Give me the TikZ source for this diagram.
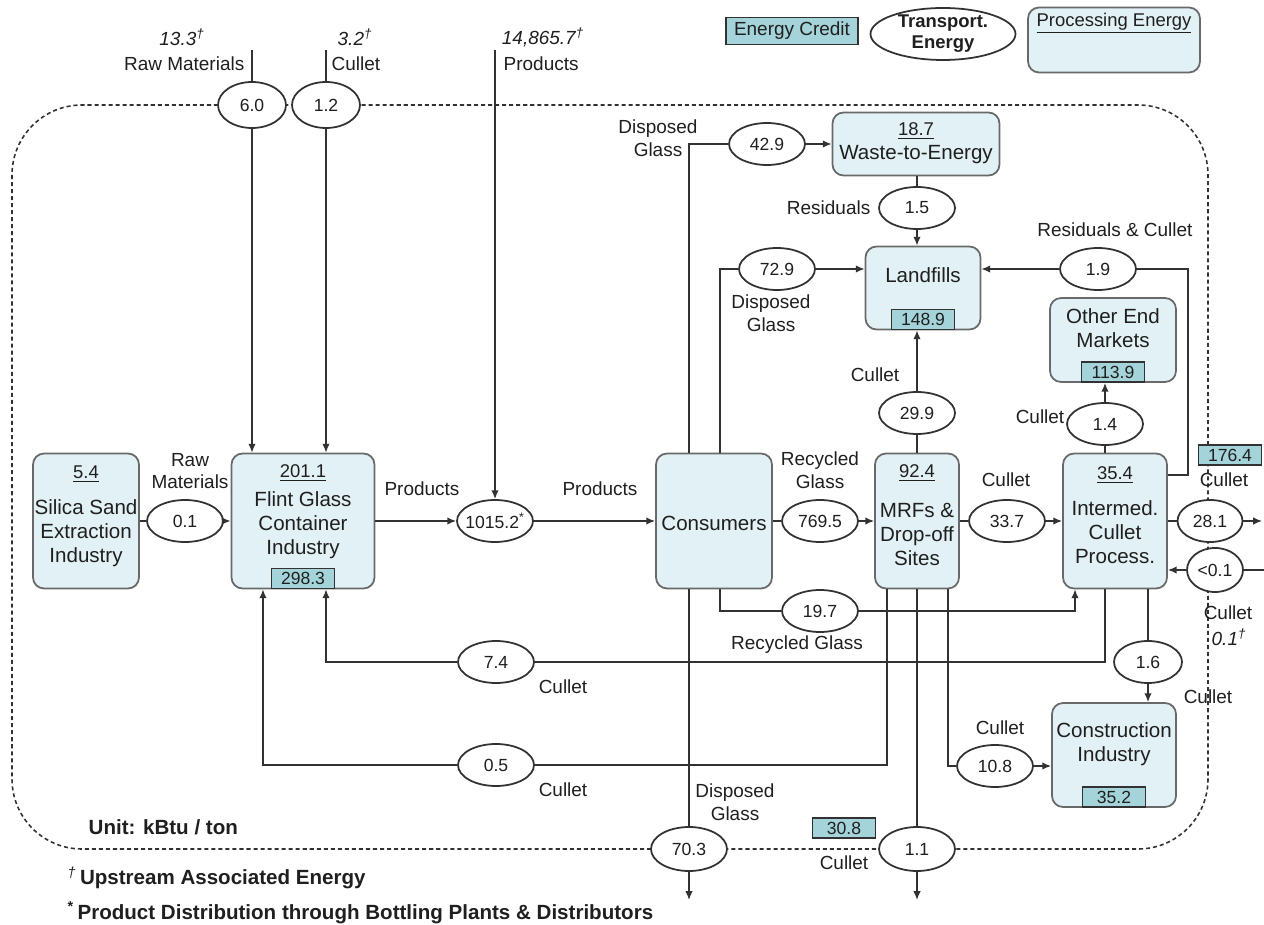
\documentclass[tikz,border=0pt]{standalone}
\usepackage{fontspec}
\setmainfont{Liberation Sans}
\usetikzlibrary{shapes.geometric, arrows.meta}
\definecolor{boxblue}{RGB}{226,241,245}
\definecolor{creditteal}{RGB}{164,211,217}
\definecolor{linegray}{RGB}{50,50,50}
\definecolor{edgegray}{RGB}{105,105,105}
\newcommand{\bnum}[1]{{\fontsize{10.5}{12}\selectfont\underline{#1}}}
\newcommand{\up}{\textsuperscript{\textdagger}}

\begin{document}
\begin{tikzpicture}[x=0.02cm, y=-0.02cm, >={Latex[length=5pt,width=4.2pt]}, line width=0.8pt, color=linegray,
    every node/.append style={text=black!88},
    proc/.style={draw=edgegray, line width=1pt, fill=boxblue, rounded corners=0.22cm, minimum height=2.7cm, inner sep=0pt},
    flow/.style={ellipse, draw=linegray, line width=1pt, fill=white, minimum width=1.52cm, minimum height=0.84cm, inner sep=0pt, font=\fontsize{10}{12}\selectfont},
    credit/.style={draw=linegray, fill=creditteal, minimum width=1.26cm, minimum height=0.4cm, inner sep=0pt, font=\fontsize{10}{12}\selectfont},
    lbl/.style={align=center, inner sep=0pt, font=\fontsize{10.8}{13}\selectfont},
    boxtxt/.style={align=center, inner sep=0pt, font=\fontsize{11.7}{13.6}\selectfont},
    note/.style={anchor=west, inner sep=0pt, font=\fontsize{11.7}{14}\selectfont\bfseries},
    boundary/.style={dash pattern=on 2.3pt off 1.7pt, line width=0.9pt, rounded corners=1.4cm}]
    \useasboundingbox (0,0) rectangle (1264,925);

    \draw[boundary] (12,105) rectangle (1208,849);

    \coordinate (rawTop) at (252,50);
    \coordinate (culTop) at (326,50);
    \coordinate (prodTop) at (495,50);
    \coordinate (outEnd) at (1262,521);
    \coordinate (inStart) at (1264,570);
    \coordinate (consEnd) at (689,900);
    \coordinate (mrfEnd) at (917,900);
    \coordinate (rcTurn) at (1188,475);
    \coordinate (consL) at (689,0);
    \coordinate (consR) at (720,0);
    \coordinate (flintL) at (263,0);
    \coordinate (flintR) at (326,0);
    \coordinate (mrfL) at (887,0);
    \coordinate (mrfR) at (948,0);
    \coordinate (icpL) at (1075,0);
    \coordinate (icpM) at (1105,0);

    % legend
    \node[credit, minimum width=2.64cm, minimum height=0.54cm, font=\fontsize{10.8}{12}\selectfont] (keyCredit) at (792,31) {Energy Credit};
    \node[flow, minimum width=2.9cm, minimum height=1.04cm, inner ysep=-3pt, align=center, font=\fontsize{10.5}{12}\selectfont\bfseries] (keyTrans) at (943,34) {Transport.\\Energy};
    \node[proc, minimum width=3.44cm, minimum height=1.3cm] (keyProc) at (1114,40) {};
    \node[boxtxt, anchor=north, font=\fontsize{10.5}{12}\selectfont] (keyProcTxt) at (1114,12) {\underline{Processing Energy}};

    % process boxes
    \node[proc, minimum width=2.12cm] (silica) at (86,521) {};
    \node[boxtxt] (silicaTxt) at (86,516) {\bnum{5.4}\\[7pt]Silica Sand\\Extraction\\Industry};
    \node[proc, minimum width=2.86cm] (flint) at (303,521) {};
    \node[boxtxt] (flintTxt) at (303,512) {\bnum{201.1}\\[3pt]Flint Glass\\Container\\Industry};
    \node[credit, anchor=south] (flintCr) at (flint.south) {298.3};
    \node[proc, minimum width=2.32cm] (consumers) at (714,521) {};
    \node[boxtxt] (consTxt) at (714,523) {Consumers};
    \node[proc, minimum width=1.68cm] (mrf) at (917,521) {};
    \node[boxtxt] (mrfTxt) at (917,515) {\bnum{92.4}\\[9pt]MRFs \&\\Drop-off\\Sites};
    \node[proc, minimum width=2.08cm] (icp) at (1115,521) {};
    \node[boxtxt] (icpTxt) at (1115,515) {\bnum{35.4}\\[7pt]Intermed.\\Cullet\\Process.};
    \node[proc, minimum width=3.34cm, minimum height=1.26cm] (wte) at (916,144) {};
    \node[boxtxt] (wteTxt) at (916,143) {\bnum{18.7}\\Waste-to-Energy};
    \node[proc, minimum width=2.3cm, minimum height=1.66cm] (landfill) at (923,288) {};
    \node[boxtxt] (landfillTxt) at (923,275) {Landfills};
    \node[credit, anchor=south] (landfillCr) at (landfill.south) {148.9};
    \node[proc, minimum width=2.52cm, minimum height=1.68cm] (oem) at (1113,340) {};
    \node[boxtxt] (oemTxt) at (1113,328) {Other End\\Markets};
    \node[credit, anchor=south] (oemCr) at (oem.south) {113.9};
    \node[proc, minimum width=2.48cm, minimum height=2.08cm] (constr) at (1114,755) {};
    \node[boxtxt] (constrTxt) at (1114,744) {Construction\\Industry};
    \node[credit, anchor=south] (constrCr) at (constr.south) {35.2};

    % flows
    \node[flow, minimum width=1.36cm, minimum height=0.92cm] (rawIn) at (252,105) {6.0};
    \node[flow, minimum width=1.36cm, minimum height=0.92cm] (culIn) at (326,105) {1.2};
    \node[flow] (sandFl) at (185,521) {0.1};
    \node[flow, inner xsep=-5pt] (distr) at (495,521) {1015.2\textsuperscript{*}};
    \node[flow] (consMrf) at (820,521) {769.5};
    \node[flow] (mrfIcp) at (1007,521) {33.7};
    \node[flow, minimum width=1.3cm] (icpOut) at (1210,521) {28.1};
    \node[flow, minimum width=1.12cm, minimum height=0.88cm] (icpIn) at (1215,570) {<0.1};
    \node[flow] (dispWte) at (767,144) {42.9};
    \node[flow] (wteLf) at (917,208) {1.5};
    \node[flow] (dispLf) at (777,269) {72.9};
    \node[flow] (rcLf) at (1098,269) {1.9};
    \node[flow] (mrfLf) at (917,413) {29.9};
    \node[flow] (icpOem) at (1105,424) {1.4};
    \node[flow] (consIcp) at (820,611) {19.7};
    \node[flow] (icpFlint) at (496,662) {7.4};
    \node[flow, minimum width=1.36cm] (icpCon) at (1148,662) {1.6};
    \node[flow] (mrfFlint) at (496,765) {0.5};
    \node[flow] (mrfCon) at (995,766) {10.8};
    \node[flow, minimum height=0.88cm] (consOut) at (689,849) {70.3};
    \node[flow, minimum height=0.88cm] (mrfOut) at (917,849) {1.1};
    \node[credit] (outCr) at (1230,455) {176.4};
    \node[credit] (mrfOutCr) at (844,828) {30.8};

    \draw (rawTop) -- (rawIn);
    \draw[->] (rawIn) -- (rawIn |- flint.north);
    \draw (culTop) -- (culIn);
    \draw[->] (culIn) -- (culIn |- flint.north);
    \draw[->] (prodTop) -- (distr);
    \draw (silica) -- (sandFl);
    \draw[->] (sandFl) -- (flint);
    \draw[->] (flint) -- (distr);
    \draw[->] (distr) -- (consumers);
    \draw (consumers) -- (consMrf);
    \draw[->] (consMrf) -- (mrf);
    \draw (mrf) -- (mrfIcp);
    \draw[->] (mrfIcp) -- (icp);
    \draw (icp) -- (icpOut);
    \draw[->] (icpOut) -- (outEnd);
    \draw (inStart) -- (icpIn);
    \draw[->] (icpIn) -- (icpIn -| icp.east);
    \draw (consL |- consumers.north) |- (dispWte);
    \draw[->] (dispWte) -- (dispWte -| wte.west);
    \draw (wteLf |- wte.south) -- (wteLf);
    \draw[->] (wteLf) -- (wteLf |- landfill.north);
    \draw (consR |- consumers.north) |- (dispLf);
    \draw[->] (dispLf) -- (dispLf -| landfill.west);
    \draw (icp.east |- rcTurn) -- (rcTurn) |- (rcLf);
    \draw[->] (rcLf) -- (rcLf -| landfill.east);
    \draw (mrf) -- (mrfLf);
    \draw[->] (mrfLf) -- (mrfLf |- landfill.south);
    \draw (icpM |- icp.north) -- (icpOem);
    \draw[->] (icpOem) -- (icpOem |- oem.south);
    \draw (consR |- consumers.south) |- (consIcp);
    \draw[->] (consIcp) -| (icpL |- icp.south);
    \draw (icpM |- icp.south) |- (icpFlint);
    \draw[->] (icpFlint) -| (flintR |- flint.south);
    \draw (mrfL |- mrf.south) |- (mrfFlint);
    \draw[->] (mrfFlint) -| (flintL |- flint.south);
    \draw (mrfR |- mrf.south) |- (mrfCon);
    \draw[->] (mrfCon) -- (mrfCon -| constr.west);
    \draw (mrfOut |- mrf.south) -- (mrfOut);
    \draw[->] (mrfOut) -- (mrfEnd);
    \draw (consL |- consumers.south) -- (consOut);
    \draw[->] (consOut) -- (consEnd);
    \draw (icpCon |- icp.south) -- (icpCon);
    \draw[->] (icpCon) -- (icpCon |- constr.north);

    % labels
    \node[lbl, font=\fontsize{10.8}{13}\selectfont\itshape] (rawUp) at (182,37) {13.3\up};
    \node[lbl, font=\fontsize{10.8}{13}\selectfont\itshape] (culUp) at (355,37) {3.2\up};
    \node[lbl, font=\fontsize{10.8}{13}\selectfont\itshape] (prodUp) at (543,37) {14,865.7\up};
    \node[lbl, anchor=east] (rawLbl) at (245,64) {Raw Materials};
    \node[lbl, anchor=west] (culLbl) at (331,64) {Cullet};
    \node[lbl, anchor=west] (prodLbl) at (503,64) {Products};
    \node[lbl] (sandLbl) at (190,471) {Raw\\Materials};
    \node[lbl] (flintLbl) at (422,489) {Products};
    \node[lbl] (distLbl) at (600,489) {Products};
    \node[lbl] (dispWteLbl) at (658,138) {Disposed\\Glass};
    \node[lbl, anchor=east] (wteLfLbl) at (871,208) {Residuals};
    \node[lbl] (dispLfLbl) at (771,313) {Disposed\\Glass};
    \node[lbl] (rcLfLbl) at (1115,230) {Residuals \& Cullet};
    \node[lbl] (mrfLfLbl) at (875,375) {Cullet};
    \node[lbl] (icpOemLbl) at (1040,417) {Cullet};
    \node[lbl] (consMrfLbl) at (820,470) {Recycled\\Glass};
    \node[lbl] (mrfIcpLbl) at (1006,480) {Cullet};
    \node[lbl] (icpOutLbl) at (1224,480) {Cullet};
    \node[lbl] (icpInLbl) at (1228,613) {Cullet};
    \node[lbl, font=\fontsize{10.8}{13}\selectfont\itshape] (icpInUp) at (1229,637) {0.1\up};
    \node[lbl] (consIcpLbl) at (797,645) {Recycled Glass};
    \node[lbl] (icpFlintLbl) at (563,687) {Cullet};
    \node[lbl] (icpConLbl) at (1208,697) {Cullet};
    \node[lbl] (mrfConLbl) at (1000,728) {Cullet};
    \node[lbl] (mrfFlintLbl) at (563,790) {Cullet};
    \node[lbl] (consOutLbl) at (735,802) {Disposed\\Glass};
    \node[lbl] (mrfOutLbl) at (844,863) {Cullet};
    \node[note] (unitLbl) at (88,827) {Unit: kBtu / ton};
    \node[note] (noteUp) at (67,878) {\textsuperscript{\mdseries\itshape\textdagger}\,Upstream Associated Energy};
    \node[note] (noteDist) at (67,913) {\textsuperscript{*}\,Product Distribution through Bottling Plants \& Distributors};
\end{tikzpicture}
\end{document}
